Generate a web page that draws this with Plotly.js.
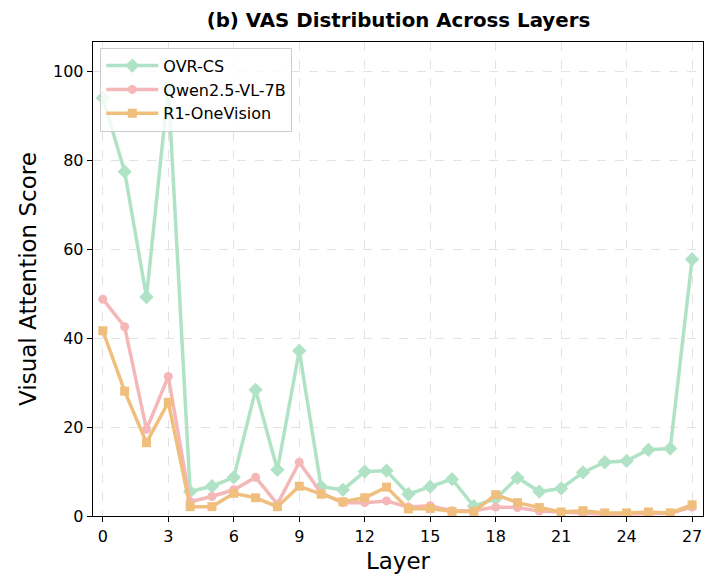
<!DOCTYPE html>
<html>
<head>
<meta charset="utf-8">
<script src="https://cdn.plot.ly/plotly-3.0.1.min.js"></script>
<style>html,body{margin:0;padding:0;background:#fff;}#chart{width:709px;height:574px;}</style>
</head>
<body>
<div id="chart"></div>
<script>
const layers = [0,1,2,3,4,5,6,7,8,9,10,11,12,13,14,15,16,17,18,19,20,21,22,23,24,25,26,27];
const ovrCS = [94.1,77.5,49.3,96.5,5.5,6.7,8.7,28.4,10.4,37.2,6.6,5.9,10.0,10.2,4.9,6.6,8.3,2.2,3.9,8.6,5.5,6.2,9.8,12.1,12.4,14.9,15.2,57.8];
const qwen = [48.8,42.6,19.5,31.4,3.2,4.4,5.9,8.7,2.7,12.1,5.2,3.0,3.0,3.4,2.0,2.3,1.2,1.2,2.0,1.9,1.1,0.8,0.6,0.4,0.4,0.5,0.6,2.0];
const r1 = [41.7,28.1,16.5,25.6,2.1,2.1,5.1,4.1,2.1,6.7,4.9,3.2,4.1,6.5,1.6,1.7,1.0,1.0,4.8,3.0,1.9,0.9,1.2,0.7,0.7,0.9,0.7,2.5];
const seriesNames = ['OVR-CS','Qwen2.5-VL-7B','R1-OneVision'];
const xTicks = [0,3,6,9,12,15,18,21,24,27];
const yTicks = [0,20,40,60,80,100];

const F = 'DejaVu Sans, sans-serif';
const traces = [
  {x: layers, y: ovrCS, name: seriesNames[0], mode:'lines+markers',
   line:{color:'#b0e3c6', width:3.5}, marker:{symbol:'diamond', size:11, color:'#b0e3c6'}},
  {x: layers, y: qwen, name: seriesNames[1], mode:'lines+markers',
   line:{color:'#f4b8b8', width:3.5}, marker:{symbol:'circle', size:9, color:'#f4b8b8'}},
  {x: layers, y: r1, name: seriesNames[2], mode:'lines+markers',
   line:{color:'#f0bf7e', width:3.5}, marker:{symbol:'square', size:9, color:'#f0bf7e'}}
];
const layout = {
  width:709, height:574,
  margin:{l:93, r:6, t:42, b:58},
  paper_bgcolor:'#fff', plot_bgcolor:'#fff',
  font:{family:F, color:'#000'},
  title:{text:'<b>(b) VAS Distribution Across Layers</b>', font:{family:F, size:19.8, color:'#000'}, x:0.562, xanchor:'center', y:0.965, yanchor:'middle'},
  xaxis:{range:[-0.45,27.5], tickvals:xTicks, ticktext:xTicks.map(String),
    showline:true, mirror:true, linecolor:'#000', linewidth:1.3,
    ticks:'outside', ticklen:5, tickcolor:'#000', tickfont:{size:16, family:F},
    showgrid:true, gridcolor:'#e3e3e3', griddash:'dash', gridwidth:1, zeroline:false,
    title:{text:'Layer', font:{size:23, family:F}, standoff:8}},
  yaxis:{range:[0,106.7], tickvals:yTicks, ticktext:yTicks.map(String),
    showline:true, mirror:true, linecolor:'#000', linewidth:1.3,
    ticks:'outside', ticklen:5, tickcolor:'#000', tickfont:{size:16, family:F},
    showgrid:true, gridcolor:'#e3e3e3', griddash:'dash', gridwidth:1, zeroline:false,
    title:{text:'Visual Attention Score', font:{size:23, family:F}, standoff:10}},
  legend:{x:0.012, y:0.988, xanchor:'left', yanchor:'top',
    bgcolor:'rgba(255,255,255,0.8)', bordercolor:'#cccccc', borderwidth:1,
    font:{size:16, family:F}, tracegroupgap:0, itemwidth:52},
  showlegend:true
};
Plotly.newPlot('chart', traces, layout, {displayModeBar:false, staticPlot:true});
</script>
</body>
</html>
